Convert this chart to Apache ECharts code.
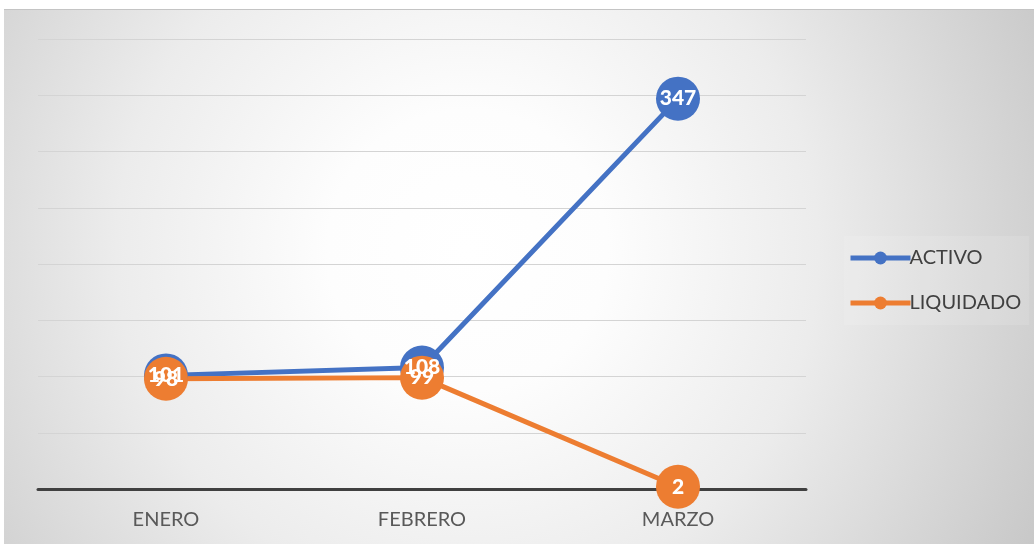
<!DOCTYPE html>
<html>
<head>
<meta charset="utf-8">
<script src="https://cdn.jsdelivr.net/npm/echarts@6/dist/echarts.min.js"></script>
<style>
  html, body { margin: 0; padding: 0; background: #fff; }
  #chart {
    position: absolute;
    left: 4px;
    top: 9px;
    width: 1030px;
    height: 535px;
    border-top: 1px solid #c4c4c4;
    box-sizing: border-box;
    background: radial-gradient(circle farthest-corner at 45% 45%, #ffffff 0%, #fdfdfd 22%, #ececec 55%, #c8c8c8 100%);
  }
</style>
</head>
<body>
<div id="chart"></div>
<script>
// meses
const months = ['ENERO', 'FEBRERO', 'MARZO'];
// valores por serie
const activo = [101, 108, 347];
const liquidado = [98, 99, 2];

const myChart = echarts.init(document.getElementById('chart'));
const labelStyle = {
  show: true,
  position: 'inside',
  color: '#ffffff',
  fontFamily: 'Lato',
  fontWeight: 900,
  fontSize: 21
};
const option = {
  animation: false,
  color: ['#4472C4', '#ED7D31'],
  grid: {
    left: 34,
    right: 228,
    top: 29,
    bottom: 55
  },
  legend: {
    orient: 'vertical',
    left: 840,
    top: 226,
    itemWidth: 60,
    itemHeight: 16,
    itemGap: 25,
    padding: [12, 8, 12, 4],
    backgroundColor: 'rgba(255,255,255,0.12)',
    lineStyle: { width: 5 },
    textStyle: {
      color: '#404040',
      fontFamily: 'Lato',
      fontSize: 20,
      padding: [0, 0, 0, -6]
    },
    data: ['ACTIVO', 'LIQUIDADO']
  },
  xAxis: {
    type: 'category',
    boundaryGap: true,
    data: months,
    axisLine: {
      lineStyle: { color: '#404040', width: 3 }
    },
    axisTick: { show: false },
    axisLabel: {
      color: '#595959',
      fontFamily: 'Lato',
      fontSize: 20,
      margin: 21
    }
  },
  yAxis: {
    type: 'value',
    min: 0,
    max: 400,
    interval: 50,
    axisLabel: { show: false },
    axisLine: { show: false },
    axisTick: { show: false },
    splitLine: {
      lineStyle: { color: '#d4d4d4', width: 1 }
    }
  },
  series: [
    {
      name: 'ACTIVO',
      type: 'line',
      data: activo,
      symbol: 'circle',
      symbolSize: 44,
      lineStyle: { width: 5 },
      label: labelStyle,
      z: 3
    },
    {
      name: 'LIQUIDADO',
      type: 'line',
      data: liquidado,
      symbol: 'circle',
      symbolSize: 44,
      lineStyle: { width: 5 },
      label: labelStyle,
      z: 3
    }
  ]
};
myChart.setOption(option);
</script>
</body>
</html>
